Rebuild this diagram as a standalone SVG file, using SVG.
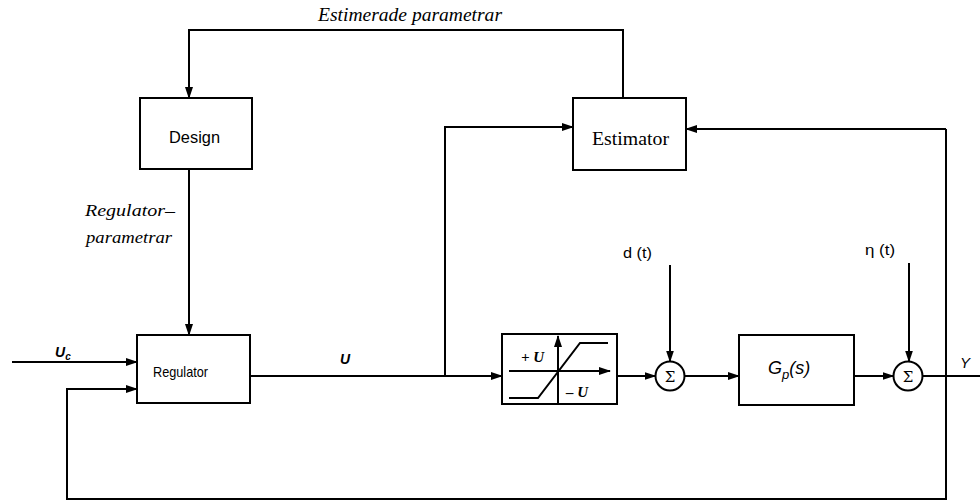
<svg xmlns="http://www.w3.org/2000/svg" width="980" height="501" viewBox="0 0 980 501">
<defs>
<marker id="ah" markerWidth="12" markerHeight="8" refX="11" refY="4" orient="auto" markerUnits="userSpaceOnUse">
<path d="M0,0 L12,4 L0,8 Z" fill="#000"/>
</marker>
<style>
.box{fill:#fff;stroke:#000;stroke-width:2}
.ln{fill:none;stroke:#000;stroke-width:2}
.ar{fill:none;stroke:#000;stroke-width:2;marker-end:url(#ah)}
.sans{font-family:"Liberation Sans",Arial,sans-serif;fill:#000}
.serif{font-family:"Liberation Serif","Times New Roman",serif;fill:#000}
.it{font-style:italic}
.sig{font-family:"DejaVu Serif","Liberation Serif",serif;font-size:15px;fill:#000}
</style>
</defs>
<rect width="980" height="501" fill="#fff"/>
<g id="connectors">
<path class="ar" d="M623,98 L623,30 L189,30 L189,98"/>
<path class="ar" d="M189,169 L189,335"/>
<path class="ar" d="M12,362 L137,362"/>
<path class="ar" d="M946,129 L946,499 L67,499 L67,389 L137,389"/>
<path class="ar" d="M946,129 L686,129"/>
<path class="ar" d="M250,376 L502,376"/>
<path class="ar" d="M445,376 L445,127 L573,127"/>
<path class="ar" d="M617,376 L655.5,376"/>
<path class="ar" d="M684.5,376 L739,376"/>
<path class="ar" d="M854,376 L893.5,376"/>
<path class="ln" d="M922.5,376 L980,376"/>
<path class="ar" d="M670,265 L670,361.5"/>
<path class="ar" d="M909,263 L909,361.5"/>
</g>
<text class="serif it" x="318" y="21" font-size="18" textLength="184" lengthAdjust="spacingAndGlyphs">Estimerade parametrar</text>
<text class="serif it" x="85" y="216" font-size="17" textLength="90" lengthAdjust="spacingAndGlyphs">Regulator–</text>
<text class="serif it" x="86" y="243" font-size="17" textLength="86" lengthAdjust="spacingAndGlyphs">parametrar</text>
<text class="sans it" x="55" y="357" font-size="14" font-weight="bold">U<tspan font-size="10" dy="3">c</tspan></text>
<text class="sans it" x="340" y="364" font-size="14" font-weight="bold">U</text>
<text class="sans" x="623" y="258" font-size="14" textLength="29" lengthAdjust="spacingAndGlyphs">d (t)</text>
<text class="sans" x="865" y="255" font-size="14" textLength="30" lengthAdjust="spacingAndGlyphs">η (t)</text>
<text class="sans it" x="960" y="368" font-size="15">Y</text>
<g id="design">
<rect class="box" x="140" y="98" width="112" height="71"/>
<text class="sans" x="169" y="143" font-size="16" textLength="51" lengthAdjust="spacingAndGlyphs">Design</text>
</g>
<g id="estimator">
<rect class="box" x="573" y="98" width="113" height="72"/>
<text class="serif" x="592" y="145" font-size="19" textLength="77" lengthAdjust="spacingAndGlyphs">Estimator</text>
</g>
<g id="regulator">
<rect class="box" x="137" y="335" width="113" height="68"/>
<text class="sans" x="153" y="377" font-size="15" textLength="55" lengthAdjust="spacingAndGlyphs">Regulator</text>
</g>
<g id="saturation">
<rect class="box" x="502" y="334" width="115" height="70"/>
<path class="ar" d="M509,371 L610,371"/>
<path class="ar" d="M558,403 L558,336"/>
<path class="ln" d="M509,398 L538,398 L580,343 L608,343"/>
<text class="serif it" x="521" y="362" font-size="15" font-weight="bold">+ U</text>
<text class="serif it" x="566" y="397" font-size="15" font-weight="bold">– U</text>
</g>
<g id="sum1">
<circle class="box" cx="670" cy="376" r="14.5"/>
<text class="sig" x="670" y="381.5" text-anchor="middle">Σ</text>
</g>
<g id="plant">
<rect class="box" x="739" y="335" width="115" height="70"/>
<text class="sans it" x="768" y="374" font-size="18">G<tspan font-size="13" dy="5">p</tspan><tspan dy="-5">(s)</tspan></text>
</g>
<g id="sum2">
<circle class="box" cx="908" cy="376" r="14.5"/>
<text class="sig" x="908" y="381.5" text-anchor="middle">Σ</text>
</g>
</svg>
